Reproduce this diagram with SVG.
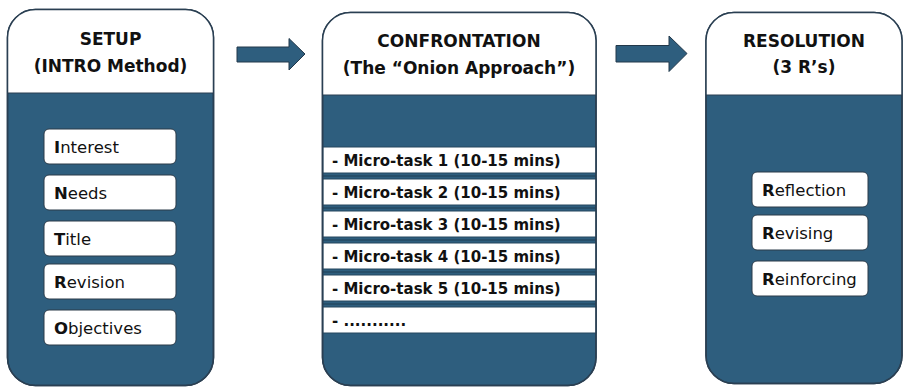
<svg xmlns="http://www.w3.org/2000/svg" width="906" height="387" viewBox="0 0 906 387">
<defs>
<style>
.panel{fill:#2E5E7E;stroke:#2A3F52;stroke-width:1.5}
.head{fill:#FFFFFF}
.outline{fill:none;stroke:#2A3F52;stroke-width:1.5}
.div{stroke:#2A3F52;stroke-width:1}
.title{font-family:"DejaVu Sans",sans-serif;font-weight:bold;font-size:17px;fill:#111;text-anchor:middle}
.item{fill:#FFFFFF;stroke:#2A3A48;stroke-width:1}
.itxt{font-family:"DejaVu Sans",sans-serif;font-size:16.5px;fill:#111}
.b{font-weight:bold}
.strip{fill:#FFFFFF;stroke:#24465F;stroke-width:1}
.stxt{font-family:"DejaVu Sans",sans-serif;font-weight:bold;font-size:15px;fill:#111}
.sep{stroke:#1F3E55;stroke-width:1}
.arrow{fill:#2E5E7E;stroke:#22384A;stroke-width:1}
</style>
</defs>
<g id="connectors">
<polygon class="arrow" points="237,47 289,47 289,38.5 305,54 289,70 289,62 237,62"/>
<polygon class="arrow" points="616,45.5 669,45.5 669,36 687,53.5 669,71.5 669,62 616,62"/>
</g>
<g id="setup">
<rect class="panel" x="7.5" y="9.5" width="206" height="376" rx="28"/>
<path class="head" d="M7.5,93 V37.5 A28,28 0 0 1 35.5,9.5 H185.5 A28,28 0 0 1 213.5,37.5 V93 Z"/>
<line class="div" x1="7.5" y1="93" x2="213.5" y2="93"/>
<rect class="outline" x="7.5" y="9.5" width="206" height="376" rx="28"/>
<text class="title" x="110.5" y="45">SETUP</text>
<text class="title" x="110.5" y="72">(INTRO Method)</text>
<g id="interest"><rect class="item" x="44" y="129" width="132" height="35" rx="5"/><text class="itxt" x="54" y="152.5"><tspan class="b">I</tspan>nterest</text></g>
<g id="needs"><rect class="item" x="44" y="175" width="132" height="35" rx="5"/><text class="itxt" x="54" y="198.5"><tspan class="b">N</tspan>eeds</text></g>
<g id="title"><rect class="item" x="44" y="221" width="132" height="35" rx="5"/><text class="itxt" x="54" y="244.5"><tspan class="b">T</tspan>itle</text></g>
<g id="revision"><rect class="item" x="44" y="264" width="132" height="35" rx="5"/><text class="itxt" x="54" y="287.5"><tspan class="b">R</tspan>evision</text></g>
<g id="objectives"><rect class="item" x="44" y="310" width="132" height="35" rx="5"/><text class="itxt" x="54" y="333.5"><tspan class="b">O</tspan>bjectives</text></g>
</g>
<g id="confrontation">
<rect class="panel" x="322.5" y="12.5" width="273.5" height="373" rx="28"/>
<path class="head" d="M322.5,95 V40.5 A28,28 0 0 1 350.5,12.5 H568 A28,28 0 0 1 596,40.5 V95 Z"/>
<line class="div" x1="322.5" y1="95" x2="596" y2="95"/>
<line class="sep" x1="323" y1="176" x2="596" y2="176"/>
<line class="sep" x1="323" y1="208" x2="596" y2="208"/>
<line class="sep" x1="323" y1="240" x2="596" y2="240"/>
<line class="sep" x1="323" y1="272" x2="596" y2="272"/>
<line class="sep" x1="323" y1="304" x2="596" y2="304"/>
<g id="task1"><rect class="strip" x="323" y="147" width="273" height="26"/><text class="stxt" x="332" y="166">- Micro-task 1 (10-15 mins)</text></g>
<g id="task2"><rect class="strip" x="323" y="179" width="273" height="26"/><text class="stxt" x="332" y="198">- Micro-task 2 (10-15 mins)</text></g>
<g id="task3"><rect class="strip" x="323" y="211" width="273" height="26"/><text class="stxt" x="332" y="230">- Micro-task 3 (10-15 mins)</text></g>
<g id="task4"><rect class="strip" x="323" y="243" width="273" height="26"/><text class="stxt" x="332" y="262">- Micro-task 4 (10-15 mins)</text></g>
<g id="task5"><rect class="strip" x="323" y="275" width="273" height="26"/><text class="stxt" x="332" y="294">- Micro-task 5 (10-15 mins)</text></g>
<g id="task6"><rect class="strip" x="323" y="307" width="273" height="26"/><text class="stxt" x="332" y="326">- ...........</text></g>
<rect class="outline" x="322.5" y="12.5" width="273.5" height="373" rx="28"/>
<text class="title" x="459" y="47">CONFRONTATION</text>
<text class="title" x="459" y="74">(The “Onion Approach”)</text>
</g>
<g id="resolution">
<rect class="panel" x="706" y="12.5" width="196" height="371" rx="28"/>
<path class="head" d="M706,95 V40.5 A28,28 0 0 1 734,12.5 H874 A28,28 0 0 1 902,40.5 V95 Z"/>
<line class="div" x1="706" y1="95" x2="902" y2="95"/>
<rect class="outline" x="706" y="12.5" width="196" height="371" rx="28"/>
<text class="title" x="804" y="47">RESOLUTION</text>
<text class="title" x="804" y="73">(3 R’s)</text>
<g id="reflection"><rect class="item" x="752" y="172" width="116" height="35" rx="5"/><text class="itxt" x="762" y="195.5"><tspan class="b">R</tspan>eflection</text></g>
<g id="revising"><rect class="item" x="752" y="215" width="116" height="35" rx="5"/><text class="itxt" x="762" y="238.5"><tspan class="b">R</tspan>evising</text></g>
<g id="reinforcing"><rect class="item" x="752" y="261" width="116" height="35" rx="5"/><text class="itxt" x="762" y="284.5"><tspan class="b">R</tspan>einforcing</text></g>
</g>
</svg>
